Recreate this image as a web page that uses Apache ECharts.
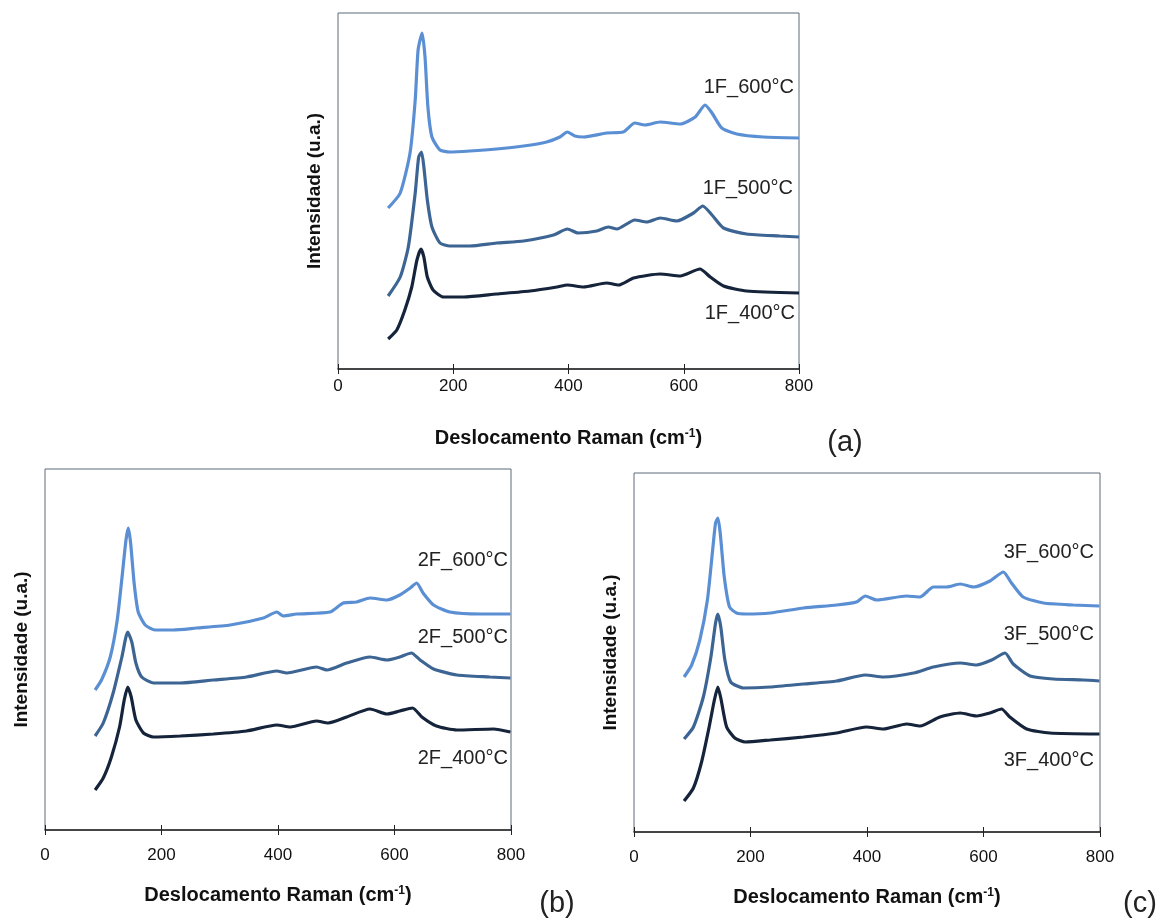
<!DOCTYPE html>
<html>
<head>
<meta charset="utf-8">
<script src="https://cdn.jsdelivr.net/npm/echarts@6/dist/echarts.min.js"></script>
<style>
  html, body { margin: 0; padding: 0; background: #fff; }
  #main { width: 1168px; height: 919px; }
</style>
</head>
<body>
<div id="main"></div>
<script>
// x ticks (cm-1)
const xTicks = [0, 200, 400, 600, 800]

// (a) 1F
const x1F600 = [87, 108, 125, 134, 139, 146, 151, 156, 163, 177, 194, 229, 275, 322, 362, 385, 398, 411, 426, 466, 495, 515, 533, 559, 594, 620, 637, 649, 666, 692, 738, 800]
const y1F600 = [161, 176, 216, 269, 319, 336, 312, 262, 232, 219, 217, 218, 220, 223, 227, 232, 237, 233, 232, 236, 237, 246, 244, 247, 245, 252, 264, 256, 241, 235, 232, 231]
const x1F500 = [87, 108, 122, 134, 140, 145, 149, 155, 163, 177, 194, 229, 275, 322, 374, 398, 417, 449, 469, 484, 515, 536, 559, 588, 617, 633, 649, 669, 709, 767, 800]
const y1F500 = [73, 92, 122, 176, 212, 217, 202, 169, 142, 126, 123, 123, 126, 128, 134, 140, 136, 138, 142, 140, 149, 147, 151, 148, 156, 163, 154, 141, 135, 133, 132]
const x1F400 = [87, 102, 116, 128, 137, 144, 149, 155, 165, 183, 218, 275, 333, 380, 398, 426, 466, 487, 513, 559, 594, 628, 646, 669, 709, 800]
const y1F400 = [30, 39, 59, 82, 109, 120, 112, 92, 79, 72, 72, 75, 78, 82, 84, 82, 86, 84, 91, 95, 93, 100, 92, 83, 78, 76]

// (b) 2F
const x2F600 = [86, 97, 112, 124, 133, 139, 143, 147, 153, 160, 172, 189, 220, 260, 318, 375, 398, 409, 432, 489, 512, 535, 558, 587, 609, 627, 638, 649, 667, 695, 747, 799]
const y2F600 = [140, 150, 173, 210, 257, 290, 302, 287, 247, 218, 205, 200, 200, 202, 205, 212, 218, 214, 216, 218, 227, 228, 232, 230, 235, 242, 247, 237, 225, 218, 216, 216]
const x2F500 = [86, 100, 117, 132, 142, 149, 156, 166, 186, 232, 289, 346, 398, 415, 466, 484, 518, 558, 587, 609, 629, 644, 667, 707, 764, 799]
const y2F500 = [94, 107, 137, 173, 198, 188, 167, 153, 147, 147, 150, 153, 159, 157, 163, 160, 167, 173, 170, 173, 177, 170, 161, 155, 153, 152]
const x2F400 = [86, 100, 114, 128, 136, 142, 148, 156, 169, 186, 232, 289, 346, 398, 421, 466, 486, 518, 558, 587, 609, 631, 647, 672, 707, 770, 799]
const y2F400 = [40, 52, 73, 103, 130, 143, 133, 110, 97, 93, 94, 96, 99, 105, 103, 109, 107, 113, 121, 116, 119, 122, 113, 104, 100, 101, 98]

// (c) 3F
const x3F600 = [86, 99, 113, 126, 135, 140, 144, 148, 155, 164, 176, 193, 234, 291, 348, 382, 397, 417, 468, 491, 514, 537, 560, 583, 611, 634, 648, 668, 703, 754, 799]
const y3F600 = [155, 167, 192, 232, 282, 309, 314, 299, 255, 225, 219, 218, 219, 224, 227, 230, 236, 232, 236, 235, 245, 245, 248, 245, 251, 260, 249, 235, 229, 227, 226]
const x3F500 = [86, 102, 119, 132, 140, 144, 149, 156, 166, 188, 234, 291, 348, 397, 428, 480, 514, 560, 588, 614, 637, 651, 680, 720, 771, 799]
const y3F500 = [93, 105, 135, 175, 209, 218, 205, 172, 150, 144, 145, 148, 151, 157, 155, 159, 165, 169, 167, 172, 179, 168, 156, 153, 152, 151]
const x3F400 = [86, 102, 116, 129, 138, 144, 149, 159, 173, 191, 234, 291, 348, 399, 428, 468, 491, 525, 560, 588, 611, 631, 645, 674, 714, 799]
const y3F400 = [31, 44, 70, 105, 132, 145, 134, 105, 94, 90, 92, 95, 99, 105, 103, 108, 106, 115, 119, 116, 119, 123, 115, 103, 99, 98]

const colors = ['#5b8fd4', '#3d6594', '#15243a']
const font = 'Liberation Sans, Arial, sans-serif'

const grids = [
	{ left: 338, top: 13, width: 461, height: 356 },
	{ left: 45, top: 469, width: 466, height: 361 },
	{ left: 634, top: 473, width: 466, height: 359 }
]

function zip(xs, ys) {
	const out = []
	for (let i = 0; i < xs.length; i++) out.push([xs[i], ys[i]])
	return out
}

const panels = [
	{ names: ['1F_600°C', '1F_500°C', '1F_400°C'], xs: [x1F600, x1F500, x1F400], ys: [y1F600, y1F500, y1F400] },
	{ names: ['2F_600°C', '2F_500°C', '2F_400°C'], xs: [x2F600, x2F500, x2F400], ys: [y2F600, y2F500, y2F400] },
	{ names: ['3F_600°C', '3F_500°C', '3F_400°C'], xs: [x3F600, x3F500, x3F400], ys: [y3F600, y3F500, y3F400] }
]

var xAxes = []
var yAxes = []
var series = []

grids.forEach(function(g, i) {
	g.show = true
	g.borderColor = '#5f6b78'
	g.borderWidth = 1
	// outside ticks + labels + title
	xAxes.push({
		gridIndex: i,
		type: 'value',
		min: 0,
		max: 800,
		interval: 200,
		splitLine: { show: false },
		axisLine: { lineStyle: { color: '#222', width: 1.5 } },
		axisTick: { show: true, length: 5, lineStyle: { color: '#222' } },
		axisLabel: { color: '#111', fontSize: 17, fontFamily: font, margin: i === 0 ? 9 : 17 },
		name: 'Deslocamento Raman (cm{sup|-1})',
		nameLocation: 'middle',
		nameGap: i === 0 ? 59 : 55,
		nameTextStyle: {
			color: '#111', fontSize: 20, fontWeight: 'bold', fontFamily: font,
			rich: { sup: { fontSize: 12, fontWeight: 'bold', fontFamily: font, verticalAlign: 'top', padding: [0, 0, 9, 0] } }
		}
	})
	// inside ticks so they cross the axis line
	xAxes.push({
		gridIndex: i,
		type: 'value',
		min: 0,
		max: 800,
		interval: 200,
		position: 'bottom',
		splitLine: { show: false },
		axisLine: { show: false },
		axisTick: { show: true, inside: true, length: 5, lineStyle: { color: '#222' } },
		axisLabel: { show: false }
	})
	yAxes.push({
		gridIndex: i,
		type: 'value',
		min: 0,
		max: g.height,
		axisLine: { show: false },
		axisTick: { show: false },
		axisLabel: { show: false },
		splitLine: { show: false },
		name: 'Intensidade (u.a.)',
		nameLocation: 'middle',
		nameRotate: 90,
		nameGap: 14,
		nameTextStyle: { color: '#111', fontSize: 19, fontWeight: 'bold', fontFamily: font }
	})
	const p = panels[i]
	for (let k = 0; k < 3; k++) {
		series.push({
			name: p.names[k],
			type: 'line',
			xAxisIndex: i * 2,
			yAxisIndex: i,
			showSymbol: false,
			smooth: 0.2,
			lineStyle: { color: colors[k], width: 3.2 },
			data: zip(p.xs[k], p.ys[k])
		})
	}
})

function txt(text, x, y, size, align) {
	return {
		type: 'text',
		x: x,
		y: y,
		style: { text: text, fill: '#222', font: size + 'px ' + font, textAlign: align, textVerticalAlign: 'middle' }
	}
}

var chart = echarts.init(document.getElementById('main'), null, { renderer: 'canvas' })
chart.setOption({
	animation: false,
	grid: grids,
	xAxis: xAxes,
	yAxis: yAxes,
	series: series,
	graphic: [
		txt('1F_600°C', 794, 87, 20, 'right'),
		txt('1F_500°C', 793, 188, 20, 'right'),
		txt('1F_400°C', 795, 313, 20, 'right'),
		txt('2F_600°C', 508, 560, 20, 'right'),
		txt('2F_500°C', 508, 637, 20, 'right'),
		txt('2F_400°C', 508, 758, 20, 'right'),
		txt('3F_600°C', 1094, 552, 20, 'right'),
		txt('3F_500°C', 1094, 634, 20, 'right'),
		txt('3F_400°C', 1094, 760, 20, 'right'),
		txt('(a)', 845, 443, 29, 'center'),
		txt('(b)', 557, 904, 29, 'center'),
		txt('(c)', 1140, 904, 29, 'center')
	]
})
</script>
</body>
</html>
